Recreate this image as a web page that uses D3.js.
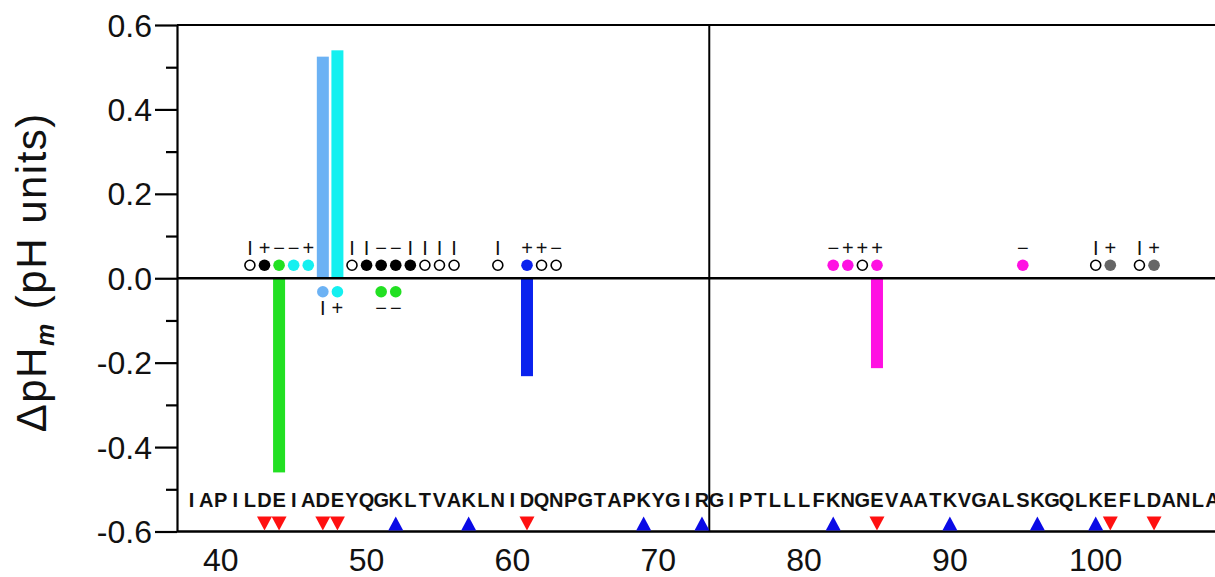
<!DOCTYPE html>
<html lang="en">
<head>
<meta charset="UTF-8">
<title>Delta pHm by residue</title>
<script src="https://d3js.org/d3.v7.min.js"></script>
<style>
    html, body { margin: 0; padding: 0; background: #fff; }
    svg { display: block; font-family: "Liberation Sans", Arial, sans-serif; }
    .tick-label { font-size: 32px; fill: #111; }
    .seq text { font-size: 20px; font-weight: bold; fill: #111; }
    .sign { font-size: 20px; fill: #111; }
</style>
</head>
<body>
<svg width="1215" height="577"></svg>
<script>
// sequence shown under the bars, first letter is residue 38
const seqStart = 38;
const sequence = "IAPILDEIADEYQGKLTVAKLNIDQNPGTAPKYGIRGIPTLLLFKNGEVAATKVGALSKGQLKEFLDANLA";

// charged residues on the axis
const acidicSites = [43, 44, 47, 48, 61, 85, 101, 104];
const basicSites = [52, 57, 69, 73, 82, 90, 96, 100];

// delta pHm bars
const barResidues = [44, 47, 48, 61, 85];
const barValues = [-0.46, 0.525, 0.54, -0.232, -0.213];
const barGroups = ["green", "lightblue", "cyan", "blue", "magenta"];

// dots above the zero line
const upResidues = [42, 43, 44, 45, 46, 49, 50, 51, 52, 53, 54, 55, 56, 59, 61, 62, 63, 82, 83, 84, 85, 95, 100, 101, 103, 104];
const upGroups = ["open", "black", "green", "cyan", "cyan", "open", "black", "black", "black", "black", "open", "open", "open", "open",
                  "blue", "open", "open", "magenta", "magenta", "open", "magenta", "magenta", "open", "gray", "open", "gray"];
const upSigns = ["I", "+", "\u2212", "\u2212", "+", "I", "I", "\u2212", "\u2212", "I", "I", "I", "I", "I",
                 "+", "+", "\u2212", "\u2212", "+", "+", "+", "\u2212", "I", "+", "I", "+"];

// dots below the zero line
const downResidues = [47, 48, 51, 52];
const downGroups = ["lightblue", "cyan", "green", "green"];
const downSigns = ["I", "+", "\u2212", "\u2212"];

const yTicks = [0.6, 0.4, 0.2, 0.0, -0.2, -0.4, -0.6];
const xTicks = [40, 50, 60, 70, 80, 90, 100];
const domainSplit = 73.5;

const colors = {
    open: "#fff", black: "#000", green: "#22e022", cyan: "#14f0f0",
    lightblue: "#6cb2f4", blue: "#0a22ee", magenta: "#ff10e2", gray: "#666"
};

const svg = d3.select("svg");
const x = d3.scaleLinear().domain([37, 108.18]).range([177, 1215]);
const y = d3.scaleLinear().domain([-0.6, 0.6]).range([531.5, 25]);
const y0 = y(0);

// bars first so lines sit on top
svg.append("g")
    .selectAll("rect")
    .data(barResidues)
    .enter().append("rect")
    .attr("x", d => x(d) - 6)
    .attr("width", 12)
    .attr("y", (d, i) => y(Math.max(0, barValues[i])))
    .attr("height", (d, i) => Math.abs(y(barValues[i]) - y0))
    .attr("fill", (d, i) => colors[barGroups[i]]);

// frame lines
const frame = svg.append("g").attr("stroke", "#000").attr("fill", "none");
frame.append("line").attr("x1", x.range()[0]).attr("x2", x.range()[1]).attr("y1", y(0.6)).attr("y2", y(0.6)).attr("stroke-width", 2.2);
frame.append("line").attr("x1", x.range()[0]).attr("x2", x.range()[1]).attr("y1", y0).attr("y2", y0).attr("stroke-width", 2.6);
frame.append("line").attr("x1", x.range()[0]).attr("x2", x.range()[1]).attr("y1", y(-0.6)).attr("y2", y(-0.6)).attr("stroke-width", 2.6);
frame.append("line").attr("x1", x(domainSplit)).attr("x2", x(domainSplit)).attr("y1", y(0.6)).attr("y2", y(-0.6)).attr("stroke-width", 2);

// y axis
const yAxis = svg.append("g")
    .attr("transform", `translate(${x.range()[0]},0)`)
    .call(d3.axisLeft(y).tickValues(d3.range(-0.6, 0.61, 0.1)).tickSize(0).tickFormat(""));
yAxis.select(".domain").attr("stroke-width", 2.2);
yAxis.selectAll(".tick line")
    .attr("stroke-width", 2.2)
    .attr("x2", d => Math.abs(Math.round(d * 10)) % 2 === 0 ? -22 : -11);

svg.append("g")
    .selectAll("text")
    .data(yTicks)
    .enter().append("text")
    .attr("class", "tick-label")
    .attr("x", x.range()[0] - 25)
    .attr("y", d => y(d))
    .attr("dy", "0.36em")
    .attr("text-anchor", "end")
    .text(d => d.toFixed(1));

// x tick labels (no tick marks in the original)
svg.append("g")
    .selectAll("text")
    .data(xTicks)
    .enter().append("text")
    .attr("class", "tick-label")
    .attr("x", d => x(d))
    .attr("y", y(-0.6) + 39)
    .attr("text-anchor", "middle")
    .text(d => d);

// y axis title
const title = svg.append("text")
    .attr("transform", `translate(46,${y0 - 6}) rotate(-90)`)
    .attr("text-anchor", "middle")
    .attr("font-size", 42)
    .attr("letter-spacing", 1.5)
    .attr("fill", "#111");
title.append("tspan").text("\u0394pH");
title.append("tspan").attr("font-size", 25).attr("font-style", "italic").attr("font-weight", "bold").attr("dy", 8).text("m");
title.append("tspan").attr("dy", -8).text(" (pH units)");

// sequence letters
svg.append("g")
    .attr("class", "seq")
    .selectAll("text")
    .data(sequence.split(""))
    .enter().append("text")
    .attr("x", (d, i) => x(seqStart + i))
    .attr("y", y(-0.6) - 25)
    .attr("text-anchor", "middle")
    .text(d => d);

// charge triangles sitting on the axis
const triW = 7.5, triH = 14;
const base = y(-0.6) - 1;
svg.append("g")
    .selectAll("path")
    .data(acidicSites)
    .enter().append("path")
    .attr("d", d => `M${x(d) - triW},${base - triH}L${x(d) + triW},${base - triH}L${x(d)},${base}Z`)
    .attr("fill", "#ff1010");
svg.append("g")
    .selectAll("path")
    .data(basicSites)
    .enter().append("path")
    .attr("d", d => `M${x(d) - triW},${base}L${x(d) + triW},${base}L${x(d)},${base - triH}Z`)
    .attr("fill", "#0a0ae6");

// dots and signs
function drawDots(residues, groups, signs, dotOffset, signOffset) {
    const g = svg.append("g");
    g.selectAll("circle")
        .data(residues)
        .enter().append("circle")
        .attr("cx", d => x(d))
        .attr("cy", y0 + dotOffset)
        .attr("r", (d, i) => groups[i] === "open" ? 5 : 5.8)
        .attr("fill", (d, i) => colors[groups[i]])
        .attr("stroke", (d, i) => groups[i] === "open" ? "#000" : "none")
        .attr("stroke-width", 1.6);
    g.selectAll("text")
        .data(residues)
        .enter().append("text")
        .attr("class", "sign")
        .attr("x", d => x(d))
        .attr("y", y0 + signOffset)
        .attr("dy", "0.36em")
        .attr("text-anchor", "middle")
        .text((d, i) => signs[i]);
}
drawDots(upResidues, upGroups, upSigns, -13, -30);
drawDots(downResidues, downGroups, downSigns, 13.5, 30);
</script>
</body>
</html>
